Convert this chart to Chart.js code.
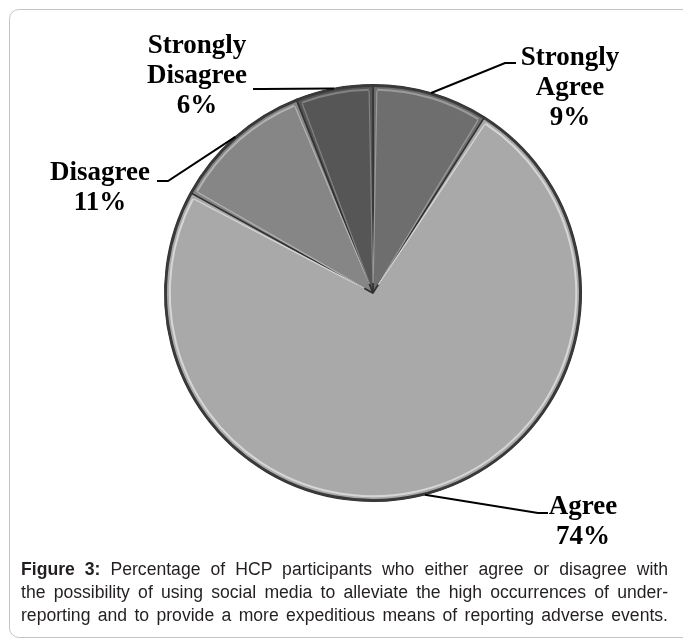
<!DOCTYPE html>
<html>
<head>
<meta charset="utf-8">
<script src="https://cdn.jsdelivr.net/npm/chart.js@4"></script>
<style>
    html, body { margin: 0; padding: 0; background: #fff; }
    body { width: 683px; height: 642px; position: relative; overflow: hidden; }
    .frame {
        position: absolute; left: 9px; top: 9px; width: 700px; height: 629px;
        border: 1.5px solid #c4c4c4; border-radius: 10px; box-sizing: border-box;
    }
    .wrap { position: absolute; left: 0; top: 0; width: 683px; height: 560px; }
    .caption {
        position: absolute; left: 21px; top: 558px; width: 647px;
        font-family: "Liberation Sans", Arial, sans-serif; font-size: 17.6px;
        line-height: 23px; color: #231f20;
    }
    .caption div { text-align: justify; text-align-last: justify; white-space: nowrap; }
</style>
</head>
<body>
<div class="frame"></div>
<div class="wrap"><canvas id="chart1"></canvas></div>
<div class="caption">
    <div><b>Figure 3:</b> Percentage of HCP participants who either agree or disagree with</div>
    <div>the possibility of using social media to alleviate the high occurrences of under-</div>
    <div>reporting and to provide a more expeditious means of reporting adverse events.</div>
</div>
<script>
(function() {
    const categories = ['Strongly Agree', 'Agree', 'Disagree', 'Strongly Disagree'];
    const percents = [9, 74, 11, 6];
    const sliceColors = ['#6e6e6e', '#a9a9a9', '#868686', '#565656'];

    // where each label sits and how its leader line bends
    const labelSpots = [
        { x: 570, y: 65, elbow: [505, 63], end: [516, 63] },
        { x: 583, y: 514, elbow: [538, 513], end: [548, 513] },
        { x: 100, y: 180, elbow: [168, 181], end: [157, 181] },
        { x: 197, y: 53, elbow: [262, 89], end: [253, 89] }
    ];

    function shade(hex, amt) {
        const n = parseInt(hex.slice(1), 16);
        const c = [n >> 16, (n >> 8) & 255, n & 255].map(v => Math.max(0, Math.min(255, v + amt)));
        return 'rgb(' + c.join(',') + ')';
    }

    const bevelPlugin = {
        id: 'bevel',
        afterDatasetsDraw(chart) {
            const ctx = chart.ctx;
            const arcs = chart.getDatasetMeta(0).data;
            ctx.save();
            arcs.forEach((arc, i) => {
                const { x, y, startAngle, endAngle, outerRadius } = arc.getProps(['x', 'y', 'startAngle', 'endAngle', 'outerRadius'], true);
                const light = shade(sliceColors[i], 45);
                // light lines just inside the slice edges
                const d = 4 / outerRadius;
                [startAngle + d, endAngle - d].forEach(a => {
                    ctx.beginPath();
                    ctx.moveTo(x + Math.cos(a) * 10, y + Math.sin(a) * 10);
                    ctx.lineTo(x + Math.cos(a) * (outerRadius - 6), y + Math.sin(a) * (outerRadius - 6));
                    ctx.strokeStyle = light;
                    ctx.lineWidth = 1.2;
                    ctx.stroke();
                });
                // light inner rim
                ctx.beginPath();
                ctx.arc(x, y, outerRadius - 5, startAngle + 0.02, endAngle - 0.02);
                ctx.strokeStyle = light;
                ctx.lineWidth = 2;
                ctx.stroke();
                // dark outer rim
                ctx.beginPath();
                ctx.arc(x, y, outerRadius - 1, startAngle, endAngle);
                ctx.strokeStyle = '#3a3a3a';
                ctx.lineWidth = 2.5;
                ctx.stroke();
            });
            ctx.restore();
        }
    };

    const calloutPlugin = {
        id: 'callouts',
        afterDraw(chart) {
            const ctx = chart.ctx;
            const arcs = chart.getDatasetMeta(0).data;
            ctx.save();
            arcs.forEach((arc, i) => {
                const { x, y, startAngle, endAngle, outerRadius } = arc.getProps(['x', 'y', 'startAngle', 'endAngle', 'outerRadius'], true);
                const mid = (startAngle + endAngle) / 2;
                const sx = x + Math.cos(mid) * outerRadius;
                const sy = y + Math.sin(mid) * outerRadius;
                const spot = labelSpots[i];
                ctx.beginPath();
                ctx.moveTo(sx, sy);
                ctx.lineTo(spot.elbow[0], spot.elbow[1]);
                ctx.lineTo(spot.end[0], spot.end[1]);
                ctx.strokeStyle = '#000';
                ctx.lineWidth = 2;
                ctx.stroke();

                const lines = categories[i].split(' ').concat(percents[i] + '%');
                ctx.fillStyle = '#000';
                ctx.font = 'bold 27px "Liberation Serif", "Times New Roman", serif';
                ctx.textAlign = 'center';
                ctx.textBaseline = 'alphabetic';
                lines.forEach((line, k) => ctx.fillText(line, spot.x, spot.y + k * 30));
            });
            ctx.restore();
        }
    };

    const data = {
        labels: categories,
        datasets: [{
            data: percents,
            backgroundColor: ctx => {
                const chart = ctx.chart;
                const arc = chart.getDatasetMeta(0).data[ctx.dataIndex];
                if (!arc || !arc.outerRadius) {
                    return sliceColors[ctx.dataIndex];
                }
                const g = chart.ctx.createRadialGradient(arc.x, arc.y, 0, arc.x, arc.y, arc.outerRadius);
                const base = sliceColors[ctx.dataIndex];
                g.addColorStop(0, shade(base, -12));
                g.addColorStop(0.6, base);
                g.addColorStop(0.93, shade(base, 14));
                g.addColorStop(1, shade(base, -20));
                return g;
            },
            borderColor: '#333333',
            borderWidth: 1.5
        }]
    };

    const options = {
        responsive: false,
        animation: false,
        rotation: 0,
        layout: {
            padding: { left: 163, right: 100, top: 84, bottom: 58 }
        },
        plugins: {
            legend: { display: false },
            tooltip: { enabled: false }
        }
    };

    const canvas = document.getElementById('chart1');
    canvas.width = 683;
    canvas.height = 560;
    new Chart(canvas, { type: 'pie', data, options, plugins: [bevelPlugin, calloutPlugin] });
})();
</script>
</body>
</html>
